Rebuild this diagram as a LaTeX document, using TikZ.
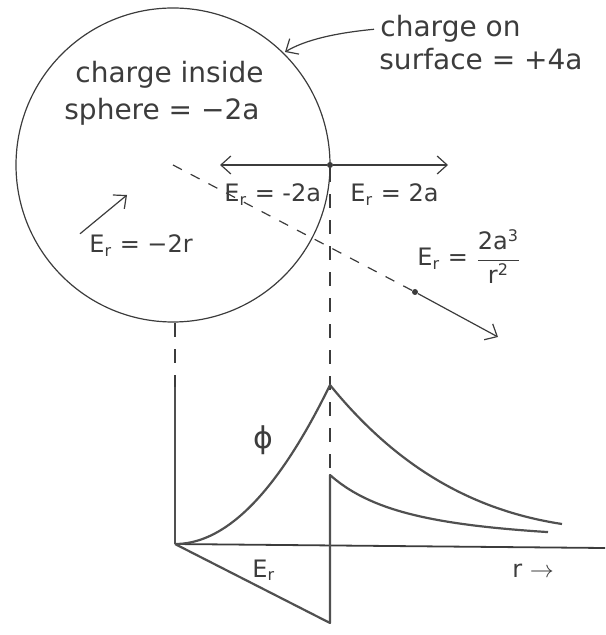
\documentclass[tikz,border=0pt]{standalone}
\usepackage{amsmath}
\usepackage{fontspec}
\setmainfont{DejaVu Sans}
\usepackage{tikz}
\usetikzlibrary{arrows.meta,calc}
\definecolor{cInk}{HTML}{3C3C3C}
\definecolor{cPen}{HTML}{505050}
\newcommand{\Er}{E\textsubscript{r}}
\tikzset{
  ln/.style={cInk, line width=0.6pt},
  ar/.style={ln, -{Straight Barb[length=5pt, width=9pt]}},
  dsh/.style={ln, dash pattern=on 7pt off 6pt},
  crv/.style={cPen, line width=1.1pt, line join=round},
  lbl/.style={cInk, inner sep=0pt, anchor=base west, font=\fontsize{14}{17}\selectfont},
  lblE/.style={lbl, font=\fontsize{12}{14}\selectfont},
  dot/.style={circle, fill=cInk, inner sep=0pt, minimum size=3pt}
}

\begin{document}
\begin{tikzpicture}[x=0.5pt, y=-0.5pt]
\useasboundingbox (0,0) rectangle (605,635);
% sphere and the field at its surface
\coordinate (ctr) at (173,165);
\draw[ln] (ctr) circle[radius=78.5pt];
\node[dot] (surf) at (330,165) {};
\coordinate (lend) at (220,165);
\coordinate (rend) at (448,165);
\draw[ar] (surf) -- (lend);
\draw[ar] (surf) -- (rend);
\node[dot] (mark) at (415,292) {};
\coordinate (tipR) at (498,337);
\draw[ln, dash pattern=on 5pt off 5pt] (ctr) -- (mark);
\draw[ar] (mark) -- (tipR);
\coordinate (tipC) at (285,52);
% labels
\node[lbl] (insA) at (75,83) {charge inside};
\node[lbl] (insB) at (64,120) {sphere = −2a};
\node[lbl] (onA) at (380,37) {charge on};
\node[lbl] (onB) at (379,70) {surface = +4a};
\node[lblE] (inE) at (224,202) {\Er\ = -2a};
\node[lblE] (outE) at (350,202) {\Er\ = 2a};
\node[lblE] (inr) at (89,253) {\Er\ = −2r};
\node[lblE] (outr) at (417,266) {\Er\ = $\dfrac{\text{2a\textsuperscript{3}}}{\text{r\textsuperscript{2}}}$};
\draw[ar] ([xshift=-3pt]onA.west) .. controls (335,33) and (305,40) .. (tipC);
\draw[ar] ([shift={(-9,-1)}]inr.north west) -- (127,195);
% potential and field against r
\coordinate (O) at (175,544);
\coordinate (axT) at (175,387);
\coordinate (axR) at (605,548);
\coordinate (sphB) at (175,323);
\coordinate (jmp) at (330,475);
\coordinate (bot) at (330,623);
\draw[dsh] (sphB) -- (axT);
\draw[dsh] (surf) -- (jmp);
\draw[crv] (axT) -- (O);
\draw[ln, line width=0.9pt] (O) -- (axR);
\draw[crv] (O) -- (bot) -- (jmp) -- plot[domain=155:373, samples=40] ({175+\x},{544-69*(155/\x)^2});
\draw[crv] (O) -- plot[domain=0:155, samples=40] ({175+\x},{544-159*(\x/155)^2})
  .. controls (395,465) and (470,510) .. (562,524);
\node[lbl, anchor=center, font=\fontsize{15}{18}\selectfont] (phi) at (263,440) {ϕ};
\node[lblE] (erl) at (252,577) {\Er};
\node[lblE] (rax) at (512,577) {r $\rightarrow$};
\end{tikzpicture}
\end{document}
